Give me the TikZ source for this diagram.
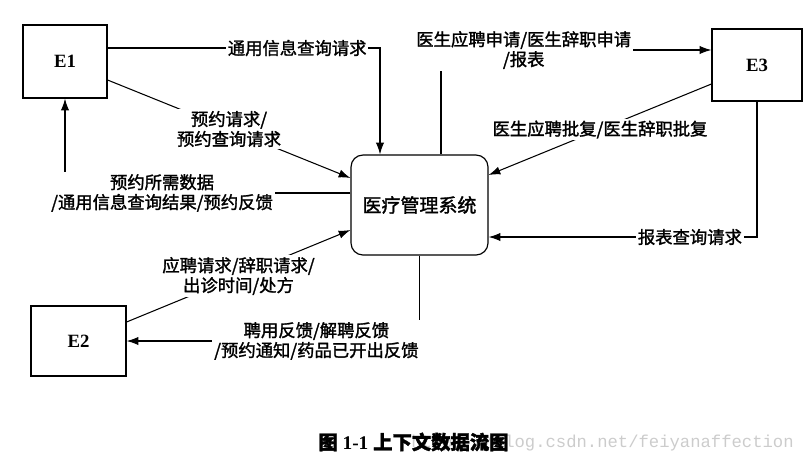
\documentclass[tikz,border=0pt]{standalone}
\usepackage{fontspec}
\setmainfont{Liberation Serif}
\setmonofont{Liberation Mono}
\newfontfamily\cjk{Noto Sans CJK SC}[RawFeature={embolden=1.6}]
\usepackage{xcolor}
\usepackage{tikz}
\usetikzlibrary{arrows.meta}

\begin{document}
\begin{tikzpicture}[x=0.03cm, y=-0.03cm]
			\tikzstyle{every node}=[font=\cjk\fontsize{14.8}{17}\selectfont];
			\tikzstyle{entity}=[draw, line width=1pt, font=\bfseries\fontsize{16}{18}\selectfont];
			\tikzstyle{flow}=[line width=0.9pt, -{Latex[length=10pt, width=7pt]}];
			\tikzstyle{lbl}=[fill=white, align=center, inner sep=1.5pt];
			
			\useasboundingbox (0, 0) rectangle (805, 468);
			
			%Entities
			\node[entity, minimum width=2.52cm, minimum height=2.19cm] (e1) at (65, 61.5) {E1};
			\node[entity, minimum width=2.85cm, minimum height=2.1cm] (e2) at (78.5, 341) {E2};
			\node[entity, minimum width=2.7cm, minimum height=2.16cm] (e3) at (757, 65) {E3};
			
			%System
			\node[draw, line width=1pt, rounded corners=0.36cm, minimum width=4.11cm, minimum height=3cm, font=\cjk\fontsize{16.2}{18}\selectfont] (sys) at (419.5, 205) {医疗管理系统};
			
			%Flows of E1
			\draw[flow] ([yshift=0.405cm]e1.east) -| node[lbl, pos=0.348] (lQuery) {通用信息查询请求} ([xshift=-1.185cm]sys.north);
			\draw[flow] ([yshift=-0.555cm]e1.east) -- node[lbl, pos=0.5] (lBook) {预约请求/\\预约查询请求} ([yshift=0.81cm]sys.west);
			\draw[flow] ([yshift=0.36cm]sys.west) -| node[lbl, pos=0.33] (lBookRes) {预约所需数据\\/通用信息查询结果/预约反馈} (e1.south);
			
			%Flows of E2
			\draw[flow] ([yshift=0.57cm]e2.east) -- node[lbl, pos=0.5] (lDoc) {应聘请求/辞职请求/\\出诊时间/处方} ([yshift=-0.75cm]sys.west);
			\draw[flow] (sys.south) |- node[lbl, pos=0.676] (lFeed) {聘用反馈/解聘反馈\\/预约通知/药品已开出反馈} (e2.east);
			
			%Flows of E3
			\draw[flow] ([xshift=0.645cm]sys.north) |- node[lbl, pos=0.653] (lApply) {医生应聘申请/医生辞职申请\\/报表} ([yshift=0.45cm]e3.west);
			\draw[flow] ([yshift=-0.57cm]e3.west) -- node[lbl, pos=0.5] (lReply) {医生应聘批复/医生辞职批复} ([yshift=0.9cm]sys.east);
			\draw[flow] (e3.south) |- node[lbl, pos=0.625] (lReport) {报表查询请求} ([yshift=-0.96cm]sys.east);
			
			%Caption
			\node[font=\ttfamily\fontsize{14.7}{16}\selectfont, text=gray!40] (mark) at (602.5, 443) {https://blog.csdn.net/feiyanaffection};
			\node[font=\bfseries\fontsize{16.5}{18}\selectfont] (caption) at (413.5, 442) {{\cjk 图} 1-1 {\cjk 上下文数据流图}};
\end{tikzpicture}
\end{document}
